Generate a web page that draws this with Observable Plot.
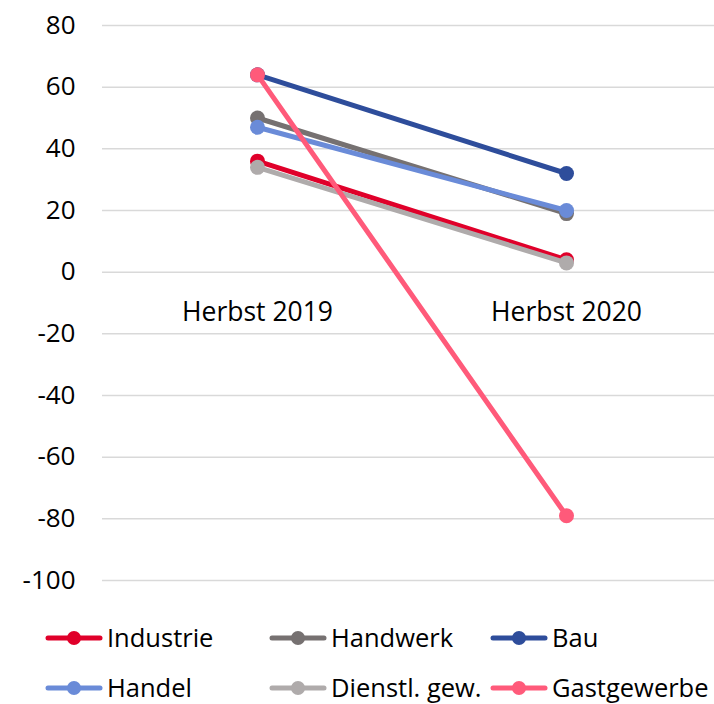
<!DOCTYPE html>
<html>
<head>
<meta charset="utf-8">
<script src="https://cdn.jsdelivr.net/npm/d3@7"></script>
<script src="https://cdn.jsdelivr.net/npm/@observablehq/plot@0.6"></script>
<style>
  html, body { margin: 0; padding: 0; background: #fff; }
  body { width: 714px; height: 704px; overflow: hidden; font-family: "Open Sans", sans-serif; }
  #chart svg { display: block; }
  #legend { display: grid; grid-template-columns: 224px 221px auto; grid-auto-rows: 50px; padding-left: 45px; margin-top: 8px; }
  .item { display: flex; align-items: center; font-size: 25.5px; line-height: 1; color: #000; white-space: nowrap; }
  .item svg { margin-right: 4px; flex: none; }
</style>
</head>
<body>
<div id="chart"></div>
<div id="legend"></div>
<script>
const periods = ["Herbst 2019", "Herbst 2020"];
const seriesNames = ["Industrie", "Handwerk", "Bau", "Handel", "Dienstl. gew.", "Gastgewerbe"];
const seriesColors = ["#E0002A", "#767171", "#2E4D9B", "#6A8BD8", "#AFABAB", "#FF5A7A"];
const valuesIndustrie = [36, 4];
const valuesHandwerk = [50, 19];
const valuesBau = [64, 32];
const valuesHandel = [47, 20];
const valuesDienstl = [34, 3];
const valuesGastgewerbe = [64, -79];
const yTicks = [80, 60, 40, 20, 0, -20, -40, -60, -80, -100];

const allValues = [valuesIndustrie, valuesHandwerk, valuesBau, valuesHandel, valuesDienstl, valuesGastgewerbe];
const data = [];
seriesNames.forEach((s, i) => periods.forEach((p, j) => data.push({series: s, period: p, value: allValues[i][j]})));
const labelRows = periods.map(p => ({period: p, zero: 0}));
const fmt = d => d < 0 ? "-" + Math.abs(d) : String(d);

const chart = Plot.plot({
  width: 714,
  height: 605,
  marginLeft: 102,
  marginRight: -6,
  marginTop: 25,
  marginBottom: 25,
  style: {fontFamily: "Open Sans, sans-serif", fontSize: "26px", color: "#000", overflow: "visible"},
  x: {type: "point", domain: periods, padding: 0.5, axis: null},
  y: {domain: [-100, 80], ticks: yTicks, axis: null},
  color: {domain: seriesNames, range: seriesColors},
  marks: [
    Plot.gridY(yTicks, {stroke: "#d9d9d9", strokeOpacity: 1, strokeWidth: 1.5}),
    Plot.axisY(yTicks, {tickSize: 0, tickPadding: 27, fontSize: 26, fill: "#000", tickFormat: fmt, label: null}),
    Plot.text(labelRows, {x: "period", y: "zero", text: "period", dy: 40, fontSize: 26.5, fill: "#000"}),
    ...seriesNames.map(s => [
      Plot.line(data.filter(d => d.series === s), {x: "period", y: "value", stroke: "series", strokeWidth: 5, strokeLinecap: "round"}),
      Plot.dot(data.filter(d => d.series === s), {x: "period", y: "value", fill: "series", r: 7.5})
    ]).flat()
  ]
});
document.getElementById("chart").appendChild(chart);

const legend = document.getElementById("legend");
seriesNames.forEach((s, i) => {
  const item = document.createElement("div");
  item.className = "item";
  item.innerHTML = `<svg width="58" height="16"><line x1="3" y1="8" x2="55" y2="8" stroke="${seriesColors[i]}" stroke-width="5" stroke-linecap="round"/><circle cx="29" cy="8" r="7" fill="${seriesColors[i]}"/></svg><span>${s}</span>`;
  legend.appendChild(item);
});
</script>
</body>
</html>
